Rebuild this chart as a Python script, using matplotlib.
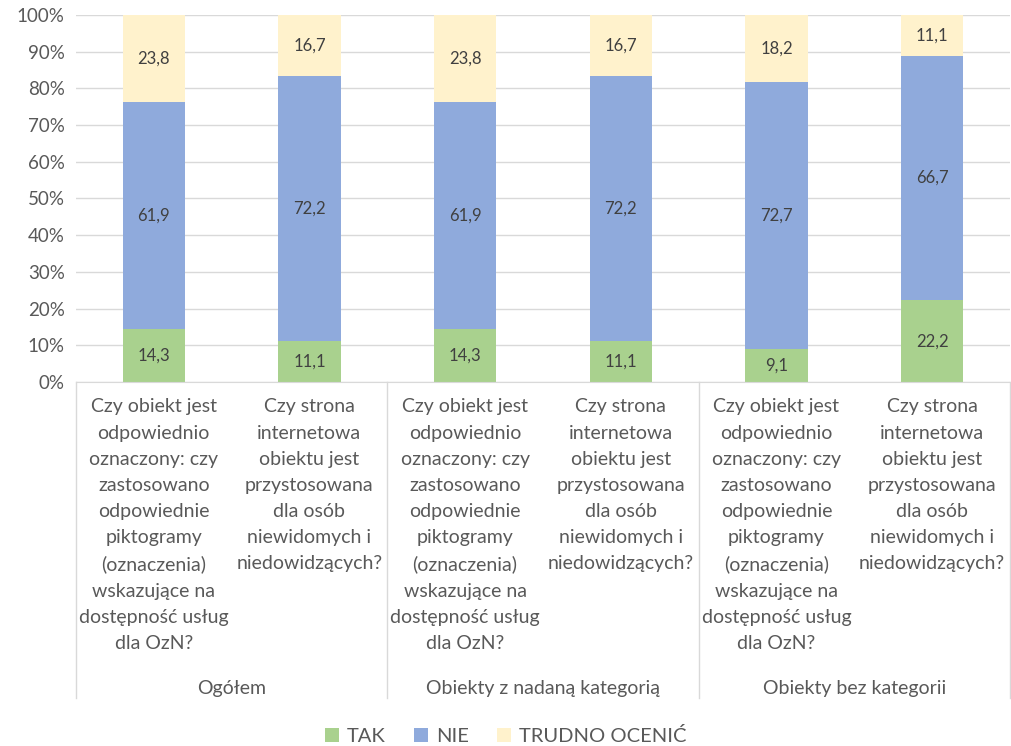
import numpy as np
import matplotlib
matplotlib.use('Agg')
import matplotlib.pyplot as plt
from matplotlib.patches import Patch

Q1 = ('Czy obiekt jest\nodpowiednio\noznaczony: czy\nzastosowano\nodpowiednie\npiktogramy\n'
      '(oznaczenia)\nwskazujące na\ndostępność usług\ndla OzN?')
Q2 = 'Czy strona\ninternetowa\nobiektu jest\nprzystosowana\ndla osób\nniewidomych i\nniedowidzących?'

questions = [Q1, Q2, Q1, Q2, Q1, Q2]
groups = ['Ogółem', 'Obiekty z nadaną kategorią', 'Obiekty bez kategorii']
series = ['TAK', 'NIE', 'TRUDNO OCENIĆ']
tak = [14.3, 11.1, 14.3, 11.1, 9.1, 22.2]
nie = [61.9, 72.2, 61.9, 72.2, 72.7, 66.7]
trudno = [23.8, 16.7, 23.8, 16.7, 18.2, 11.1]
colors = ['#A9D18E', '#8FAADC', '#FFF2CC']

TXT = '#595959'
FONT = 'Lato'

fig = plt.figure(figsize=(10.12, 7.46), dpi=100)
ax = fig.add_axes([0.075, 0.488, 0.923, 0.492])

x = np.arange(len(questions))
bottom = np.zeros(len(x))
for vals, col in zip([tak, nie, trudno], colors):
    vals = np.array(vals)
    ax.bar(x, vals, width=0.4, bottom=bottom, color=col, zorder=2)
    for xi, b, v in zip(x, bottom, vals):
        ax.text(xi, b + v / 2, f'{v:.1f}'.replace('.', ','), ha='center', va='center',
                fontsize=12, color='#404040', family=FONT, zorder=3)
    bottom += vals

ax.set_xlim(-0.5, len(x) - 0.5)
ax.set_ylim(0, 100)
ax.set_yticks(np.arange(0, 101, 10))
ax.set_yticklabels([f'{t}%' for t in range(0, 101, 10)], fontsize=13.5, color=TXT, family=FONT)
ax.yaxis.grid(True, color='#D9D9D9', linewidth=1, zorder=0)
ax.tick_params(axis='y', length=0, pad=8)
ax.set_xticks([])
for s in ['top', 'right', 'left']:
    ax.spines[s].set_visible(False)
ax.spines['bottom'].set_color('#D9D9D9')

tr = ax.get_xaxis_transform()
for xi, q in zip(x, questions):
    ax.text(xi, -0.045, q, transform=tr, ha='center', va='top', fontsize=14,
            color=TXT, family=FONT, linespacing=1.65)
for gi, g in enumerate(groups):
    ax.text(2 * gi + 0.5, -0.835, g, transform=tr, ha='center', va='center',
            fontsize=14, color=TXT, family=FONT)
for xs in [-0.5, 1.5, 3.5, 5.5]:
    ax.plot([xs, xs], [0, -0.862], transform=tr, color='#D9D9D9', lw=1, clip_on=False)

handles = [Patch(facecolor=c, label=s) for c, s in zip(colors, series)]
fig.legend(handles=handles, loc='center', bbox_to_anchor=(0.5, 0.013), ncol=3, frameon=False,
           prop={'family': FONT, 'size': 14.5}, labelcolor=TXT, handlelength=0.7,
           handleheight=0.7, handletextpad=0.4, columnspacing=1.4)

fig.savefig('out.png', dpi=100)
